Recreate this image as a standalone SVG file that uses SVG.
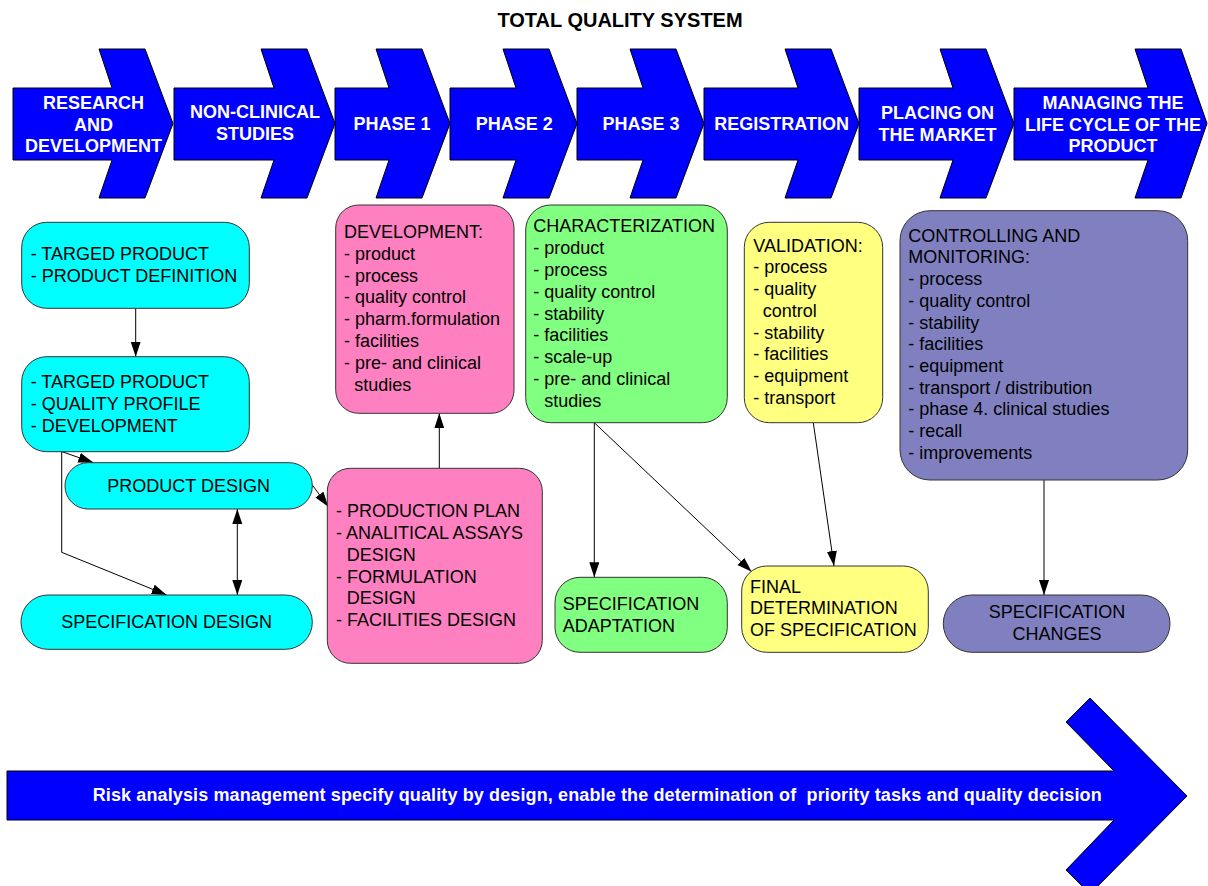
<svg xmlns="http://www.w3.org/2000/svg" width="1208" height="886" viewBox="0 0 1208 886">
<defs>
<style>
.chev{fill:#0000FF;stroke:#000;stroke-width:1;stroke-linejoin:miter}
.ct{font-family:"Liberation Sans",Arial,sans-serif;font-weight:bold;font-size:18px;fill:#fff;text-anchor:middle}
.nt{font-family:"Liberation Sans",Arial,sans-serif;font-size:18px;fill:#000}
.ntc{font-family:"Liberation Sans",Arial,sans-serif;font-size:18px;fill:#000;text-anchor:middle}
.node{stroke:#333;stroke-width:1}
.cy{fill:#00FFFF}
.pk{fill:#FF80C0}
.gr{fill:#80FF80}
.ye{fill:#FFFF80}
.pu{fill:#8080C0}
.con{fill:none;stroke:#000;stroke-width:1}
</style>
<marker id="ah" markerUnits="userSpaceOnUse" markerWidth="16" markerHeight="11" refX="15" refY="5" orient="auto-start-reverse">
<path d="M0,0 L15,5 L0,10 Z" fill="#000"/>
</marker>
</defs>
<rect width="1208" height="886" fill="#fff"/>
<text x="620" y="26.5" font-family="Liberation Sans,Arial,sans-serif" font-weight="bold" font-size="20" text-anchor="middle">TOTAL QUALITY SYSTEM</text>

<g id="stage-research">
<path class="chev" d="M13,88 L112,88 L99,49 L145,49 L173,123.5 L145,198 L99,198 L112,160 L13,160 Z"/>
<text class="ct" x="93.5" y="109.3">RESEARCH</text>
<text class="ct" x="93.5" y="130.5">AND</text>
<text class="ct" x="93.5" y="151.7">DEVELOPMENT</text>
</g>
<g id="stage-nonclinical">
<path class="chev" d="M174,88 L274,88 L261,49 L307,49 L335,123.5 L307,198 L261,198 L274,160 L174,160 Z"/>
<text class="ct" x="255" y="118.3">NON-CLINICAL</text>
<text class="ct" x="255" y="140">STUDIES</text>
</g>
<g id="stage-phase1">
<path class="chev" d="M335,88 L389,88 L376,49 L422,49 L450,123.5 L422,198 L376,198 L389,160 L335,160 Z"/>
<text class="ct" x="392" y="130">PHASE 1</text>
</g>
<g id="stage-phase2">
<path class="chev" d="M450,88 L516,88 L503,49 L549,49 L577,123.5 L549,198 L503,198 L516,160 L450,160 Z"/>
<text class="ct" x="514.3" y="130">PHASE 2</text>
</g>
<g id="stage-phase3">
<path class="chev" d="M577,88 L643,88 L630,49 L676,49 L704,123.5 L676,198 L630,198 L643,160 L577,160 Z"/>
<text class="ct" x="641" y="130">PHASE 3</text>
</g>
<g id="stage-registration">
<path class="chev" d="M704,88 L798,88 L785,49 L831,49 L859,123.5 L831,198 L785,198 L798,160 L704,160 Z"/>
<text class="ct" x="781.7" y="130">REGISTRATION</text>
</g>
<g id="stage-market">
<path class="chev" d="M859,88 L953,88 L940,49 L986,49 L1014,123.5 L986,198 L940,198 L953,160 L859,160 Z"/>
<text class="ct" x="937.5" y="119.3">PLACING ON</text>
<text class="ct" x="937.5" y="140.7">THE MARKET</text>
</g>
<g id="stage-lifecycle">
<path class="chev" d="M1014,88 L1148,88 L1135,49 L1181,49 L1207,123.5 L1181,198 L1135,198 L1148,160 L1014,160 Z"/>
<text class="ct" x="1113" y="109.3">MANAGING THE</text>
<text class="ct" x="1113" y="130.5">LIFE CYCLE OF THE</text>
<text class="ct" x="1113" y="151.7">PRODUCT</text>
</g>

<g id="connectors">
<path class="con" d="M135.7,308.3 L135.7,356.7" marker-end="url(#ah)"/>
<path class="con" d="M62,451.7 L93.3,462.6" marker-end="url(#ah)"/>
<path class="con" d="M61.7,451.7 L61.7,552.3 L166.7,595" marker-end="url(#ah)"/>
<path class="con" d="M237.3,509 L237.3,595" marker-start="url(#ah)" marker-end="url(#ah)"/>
<path class="con" d="M312.3,485 L328.3,506.7" marker-end="url(#ah)"/>
<path class="con" d="M439.3,468.3 L439.3,413.3" marker-end="url(#ah)"/>
<path class="con" d="M594.3,422.7 L594.3,577.3" marker-end="url(#ah)"/>
<path class="con" d="M594.3,422.7 L751.7,571.7" marker-end="url(#ah)"/>
<path class="con" d="M813.3,422.7 L834,566" marker-end="url(#ah)"/>
<path class="con" d="M1044,480 L1044,595" marker-end="url(#ah)"/>
</g>

<g id="node-product-definition">
<rect class="node cy" x="21.7" y="222.3" width="227.6" height="86" rx="25"/>
<text class="nt" x="30.7" y="260">- TARGED PRODUCT</text>
<text class="nt" x="30.7" y="281.7">- PRODUCT DEFINITION</text>
</g>
<g id="node-quality-profile">
<rect class="node cy" x="21.7" y="356.7" width="227.6" height="95" rx="25"/>
<text class="nt" x="30.7" y="388.3">- TARGED PRODUCT</text>
<text class="nt" x="30.7" y="410">- QUALITY PROFILE</text>
<text class="nt" x="30.7" y="431.7">- DEVELOPMENT</text>
</g>
<g id="node-product-design">
<rect class="node cy" x="65" y="462.7" width="247.3" height="46.3" rx="23"/>
<text class="ntc" x="188.7" y="491.7">PRODUCT DESIGN</text>
</g>
<g id="node-specification-design">
<rect class="node cy" x="21" y="595" width="291.3" height="54.3" rx="27"/>
<text class="ntc" x="166.7" y="628.3">SPECIFICATION DESIGN</text>
</g>
<g id="node-production-plan">
<rect class="node pk" x="327.3" y="468.3" width="215" height="195" rx="23"/>
<text class="nt" x="336" y="516.7">- PRODUCTION PLAN</text>
<text class="nt" x="336" y="539">- ANALITICAL ASSAYS</text>
<text class="nt" x="346.7" y="560.7">DESIGN</text>
<text class="nt" x="336" y="582.7">- FORMULATION</text>
<text class="nt" x="346.7" y="604.3">DESIGN</text>
<text class="nt" x="336" y="626">- FACILITIES DESIGN</text>
</g>
<g id="node-development">
<rect class="node pk" x="335.7" y="205" width="178.3" height="208.3" rx="23"/>
<text class="nt" x="344" y="237.7">DEVELOPMENT:</text>
<text class="nt" x="344" y="259.7">- product</text>
<text class="nt" x="344" y="281.5">- process</text>
<text class="nt" x="344" y="303.3">- quality control</text>
<text class="nt" x="344" y="325.1">- pharm.formulation</text>
<text class="nt" x="344" y="346.9">- facilities</text>
<text class="nt" x="344" y="368.7">- pre- and clinical</text>
<text class="nt" x="354.3" y="390.5">studies</text>
</g>
<g id="node-characterization">
<rect class="node gr" x="525.7" y="205" width="201.6" height="217.7" rx="25"/>
<text class="nt" x="533.3" y="232.3">CHARACTERIZATION</text>
<text class="nt" x="533.3" y="254.1">- product</text>
<text class="nt" x="533.3" y="275.9">- process</text>
<text class="nt" x="533.3" y="297.7">- quality control</text>
<text class="nt" x="533.3" y="319.5">- stability</text>
<text class="nt" x="533.3" y="341.3">- facilities</text>
<text class="nt" x="533.3" y="363.1">- scale-up</text>
<text class="nt" x="533.3" y="384.9">- pre- and clinical</text>
<text class="nt" x="544.3" y="406.7">studies</text>
</g>
<g id="node-specification-adaptation">
<rect class="node gr" x="555" y="577.3" width="172.3" height="75" rx="25"/>
<text class="nt" x="562.7" y="610">SPECIFICATION</text>
<text class="nt" x="562.7" y="631.7">ADAPTATION</text>
</g>
<g id="node-validation">
<rect class="node ye" x="744.3" y="222.3" width="138.4" height="200.4" rx="25"/>
<text class="nt" x="753.3" y="251.7">VALIDATION:</text>
<text class="nt" x="753.3" y="273.4">- process</text>
<text class="nt" x="753.3" y="295.1">- quality</text>
<text class="nt" x="762.7" y="316.8">control</text>
<text class="nt" x="753.3" y="338.5">- stability</text>
<text class="nt" x="753.3" y="360.2">- facilities</text>
<text class="nt" x="753.3" y="381.9">- equipment</text>
<text class="nt" x="753.3" y="403.6">- transport</text>
</g>
<g id="node-final-determination">
<rect class="node ye" x="741.7" y="566" width="186.6" height="86.3" rx="25"/>
<text class="nt" x="750" y="592.7">FINAL</text>
<text class="nt" x="750" y="614.3">DETERMINATION</text>
<text class="nt" x="750" y="636">OF SPECIFICATION</text>
</g>
<g id="node-controlling">
<rect class="node pu" x="900" y="210.7" width="287.7" height="269.3" rx="30"/>
<text class="nt" x="908.3" y="241.7">CONTROLLING AND</text>
<text class="nt" x="908.3" y="263.4">MONITORING:</text>
<text class="nt" x="908.3" y="285.1">- process</text>
<text class="nt" x="908.3" y="306.8">- quality control</text>
<text class="nt" x="908.3" y="328.5">- stability</text>
<text class="nt" x="908.3" y="350.2">- facilities</text>
<text class="nt" x="908.3" y="371.9">- equipment</text>
<text class="nt" x="908.3" y="393.6">- transport / distribution</text>
<text class="nt" x="908.3" y="415.3">- phase 4. clinical studies</text>
<text class="nt" x="908.3" y="437">- recall</text>
<text class="nt" x="908.3" y="458.7">- improvements</text>
</g>
<g id="node-specification-changes">
<rect class="node pu" x="943.3" y="595" width="226.7" height="57.3" rx="28.6"/>
<text class="ntc" x="1057" y="618.3">SPECIFICATION</text>
<text class="ntc" x="1057" y="640">CHANGES</text>
</g>

<g id="risk-arrow">
<path class="chev" d="M7,771 L1114,771 L1066,722 L1090,698 L1187,796 L1090,894 L1066,870 L1114,820 L7,820 Z"/>
<text x="92.7" y="801" font-family="Liberation Sans,Arial,sans-serif" font-weight="bold" font-size="18" fill="#fff" textLength="1009" lengthAdjust="spacing" xml:space="preserve">Risk analysis management specify quality by design, enable the determination of  priority tasks and quality decision</text>
</g>
</svg>
